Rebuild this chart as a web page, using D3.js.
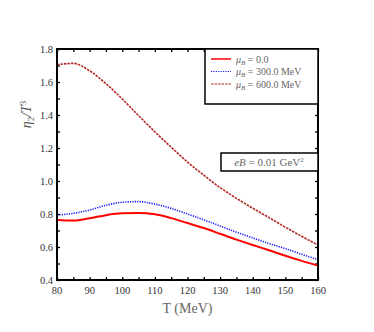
<!DOCTYPE html>
<meta charset="utf-8">
<head>
<style>
body { margin: 0; background: #fff; }
text { font-family: "Liberation Serif", "DejaVu Serif", serif; }
</style>
</head>
<script src="https://d3js.org/d3.v7.min.js"></script>
<div id="chart"></div>
<script>
// chart values
var temps = [80, 85, 90, 95, 100, 105, 110, 115, 120, 125, 130, 135, 140, 145, 150, 155, 160];
var mu0   = [0.764, 0.760, 0.774, 0.793, 0.804, 0.806, 0.798, 0.775, 0.745, 0.715, 0.680, 0.645, 0.612, 0.580, 0.547, 0.516, 0.487];
var mu300 = [0.794, 0.804, 0.824, 0.853, 0.871, 0.875, 0.860, 0.834, 0.800, 0.765, 0.727, 0.690, 0.655, 0.621, 0.590, 0.556, 0.524];
var mu600 = [1.705, 1.713, 1.668, 1.590, 1.497, 1.396, 1.298, 1.205, 1.115, 1.035, 0.960, 0.895, 0.835, 0.778, 0.720, 0.665, 0.612];
var xTicks = [80, 90, 100, 110, 120, 130, 140, 150, 160];
var yTicks = [0.4, 0.6, 0.8, 1.0, 1.2, 1.4, 1.6, 1.8];
var seriesNames = ["0.0", "300.0 MeV", "600.0 MeV"];

var W = 374, H = 332;
var margin = {top: 49, right: 56, bottom: 52, left: 57},
    width = W - margin.left - margin.right,
    height = H - margin.top - margin.bottom;

var svg = d3.select("#chart").append("svg")
    .attr("width", W).attr("height", H);
var g = svg.append("g")
    .attr("transform", "translate(" + margin.left + "," + margin.top + ")");

var x = d3.scaleLinear().domain([80, 160]).range([0, width]);
var y = d3.scaleLinear().domain([0.4, 1.8]).range([height, 0]);

// inward ticks on all four sides
var xMinor = d3.range(80, 161, 5), yMinor = d3.range(4, 19).map(function(d){ return d / 10; });
g.append("g").call(d3.axisBottom(x).tickValues(xMinor).tickSize(-3).tickFormat(""))
  .attr("transform", "translate(0," + height + ")");
g.append("g").call(d3.axisTop(x).tickValues(xMinor).tickSize(-3).tickFormat(""));
g.append("g").call(d3.axisLeft(y).tickValues(yMinor).tickSize(-3).tickFormat(""));
g.append("g").call(d3.axisRight(y).tickValues(yMinor).tickSize(-3).tickFormat(""))
  .attr("transform", "translate(" + width + ",0)");
g.selectAll(".domain").remove();
g.selectAll(".tick line").attr("stroke", "#000").attr("stroke-width", 1.3);

// tick labels
g.selectAll(".xl").data(xTicks).enter().append("text")
  .attr("x", function(d){ return x(d); }).attr("y", height + 14)
  .attr("text-anchor", "middle").attr("font-size", 10.5).attr("fill", "#333")
  .text(function(d){ return d; });
g.selectAll(".yl").data(yTicks).enter().append("text")
  .attr("x", -4).attr("y", function(d){ return y(d) + 3.5; })
  .attr("text-anchor", "end").attr("font-size", 10.5).attr("fill", "#333")
  .text(function(d){ return d.toFixed(1); });

// axis labels
g.append("text").attr("x", x(120)).attr("y", height + 33)
  .attr("text-anchor", "middle").attr("font-size", 14).attr("fill", "#666")
  .text("T (MeV)");
var yl = g.append("text").attr("transform", "translate(-26," + (height / 2 - 50) + ") rotate(-90)")
  .attr("text-anchor", "middle").attr("font-size", 14).attr("fill", "#555");
yl.append("tspan").attr("font-style", "italic").text("η");
yl.append("tspan").attr("font-size", 9).attr("dy", 3).text("2");
yl.append("tspan").attr("dy", -3).attr("font-style", "italic").text("/T");
yl.append("tspan").attr("font-size", 9).attr("dy", -5).text("3");

// curves
var series = [
  {vals: mu0,   color: "#ff0000", w: 2,   dash: null},
  {vals: mu300, color: "#1a1aff", w: 1.6, dash: "1.2,1.2"},
  {vals: mu600, color: "#b02a2a", w: 1.6, dash: "2.5,1"}
];
var line = d3.line()
  .x(function(d, i){ return x(temps[i]); })
  .y(function(d){ return y(d); })
  .curve(d3.curveMonotoneX);
series.forEach(function(s){
  g.append("path").datum(s.vals)
    .attr("fill", "none").attr("stroke", s.color)
    .attr("stroke-width", s.w)
    .attr("stroke-dasharray", s.dash)
    .attr("d", line);
});

// frame
g.append("rect").attr("width", width).attr("height", height)
  .attr("fill", "none").attr("stroke", "#000").attr("stroke-width", 2);

// legend
var lg = g.append("g").attr("transform", "translate(" + (width - 113) + ",0)");
lg.append("rect").attr("width", 113).attr("height", 55)
  .attr("fill", "#fff").attr("stroke", "#000").attr("stroke-width", 1.5);
series.forEach(function(s, i){
  var yy = 10 + i * 12.5;
  lg.append("line").attr("x1", 6).attr("x2", 26).attr("y1", yy).attr("y2", yy)
    .attr("stroke", s.color).attr("stroke-width", s.w === 2 ? 1.5 : 1.2)
    .attr("stroke-dasharray", s.dash);
  var t = lg.append("text").attr("x", 31).attr("y", yy + 3.5)
    .attr("font-size", 10).attr("fill", "#666");
  t.append("tspan").attr("font-style", "italic").text("μ");
  t.append("tspan").attr("font-style", "italic").attr("font-size", 7).attr("dy", 2).text("B");
  t.append("tspan").attr("dy", -2).text(" = " + seriesNames[i]);
});

// eB box
var eb = g.append("g").attr("transform", "translate(" + (width - 97) + ",104)");
eb.append("rect").attr("width", 97).attr("height", 18)
  .attr("fill", "#fff").attr("stroke", "#000").attr("stroke-width", 1.5);
var et = eb.append("text").attr("x", 48).attr("y", 13)
  .attr("text-anchor", "middle").attr("font-size", 11).attr("fill", "#666");
et.append("tspan").attr("font-style", "italic").text("eB");
et.append("tspan").text(" = 0.01 GeV");
et.append("tspan").attr("font-size", 7).attr("dy", -4).text("2");
</script>
